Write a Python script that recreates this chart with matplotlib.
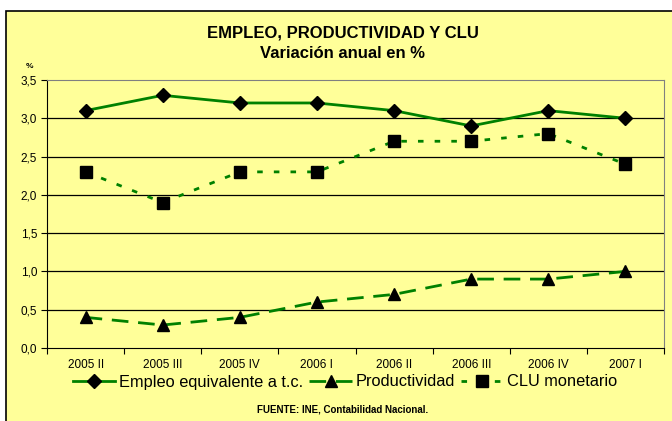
import matplotlib.pyplot as plt
from matplotlib.patches import Rectangle

plt.rcParams['font.family'] = ['Liberation Sans', 'DejaVu Sans']

# datos
trimestres = ['2005 II', '2005 III', '2005 IV', '2006 I', '2006 II', '2006 III', '2006 IV', '2007 I']
empleo = [3.1, 3.3, 3.2, 3.2, 3.1, 2.9, 3.1, 3.0]
productividad = [0.4, 0.3, 0.4, 0.6, 0.7, 0.9, 0.9, 1.0]
clu = [2.3, 1.9, 2.3, 2.3, 2.7, 2.7, 2.8, 2.4]
yticks = [0.0, 0.5, 1.0, 1.5, 2.0, 2.5, 3.0, 3.5]

fondo = '#FFFF99'
verde = '#008000'

fig = plt.figure(figsize=(6.72, 4.21), dpi=100)
fig.patch.set_facecolor('white')
# marco del grafico
fig.patches.append(Rectangle((6 / 672, -0.05), 1.0, 1 - 11 / 421 + 0.05, transform=fig.transFigure,
                             facecolor=fondo, edgecolor='black', linewidth=1.2, zorder=-10))

ax = fig.add_axes([47 / 672, 1 - 348 / 421, (664 - 47) / 672, (348 - 80) / 421])
ax.set_facecolor(fondo)

x = list(range(len(trimestres)))
ax.plot(x, empleo, color=verde, lw=2.0, marker='D', ms=7, mfc='black', mec='black',
        label='Empleo equivalente a t.c.', zorder=3)
ax.plot(x, productividad, color=verde, lw=2.0, dashes=(6, 3.5), marker='^', ms=8, mfc='black', mec='black',
        label='Productividad', zorder=3)
ax.plot(x, clu, color=verde, lw=2.0, dashes=(2, 4), marker='s', ms=8, mfc='black', mec='black',
        label='CLU monetario', zorder=3)

ax.set_xlim(-0.5, len(trimestres) - 0.5)
ax.set_ylim(0, 3.5)
ax.set_yticks(yticks)
ax.set_yticklabels([f'{v:.1f}'.replace('.', ',') for v in yticks], fontsize=8.5)
for v in yticks[1:-1]:
    ax.axhline(v, color='black', lw=0.9, zorder=1)

ax.set_xticks([i + 0.5 for i in range(-1, len(trimestres))])
ax.set_xticklabels([])
ax.set_xticks(x, minor=True)
ax.set_xticklabels(trimestres, minor=True, fontsize=8.5)
ax.tick_params(axis='x', which='minor', length=0, pad=8)
ax.tick_params(axis='x', which='major', length=4, direction='out')
ax.tick_params(axis='y', length=4, direction='out', pad=3)

for s in ['top', 'right']:
    ax.spines[s].set_color('#808080')
for s in ['left', 'bottom']:
    ax.spines[s].set_color('black')

fig.text(343 / 672, 1 - 33 / 421, 'EMPLEO, PRODUCTIVIDAD Y CLU', ha='center', va='center',
         fontsize=12, fontweight='bold')
fig.text(343 / 672, 1 - 53 / 421, 'Variación anual en %', ha='center', va='center',
         fontsize=12, fontweight='bold')
fig.text(29 / 672, 1 - 67 / 421, '%', ha='center', va='center', fontsize=6, fontweight='bold')
fig.text(343 / 672, 1 - 410 / 421, 'FUENTE: INE, Contabilidad Nacional.', ha='center', va='center',
         fontsize=7, fontweight='bold')

fig.legend(loc='center', bbox_to_anchor=(345 / 672, 1 - 382 / 421), ncol=3, frameon=False,
           fontsize=11.8, handlelength=2.6, handletextpad=0.2, columnspacing=0.4)

fig.savefig('out.png', dpi=100, facecolor=fig.get_facecolor())
